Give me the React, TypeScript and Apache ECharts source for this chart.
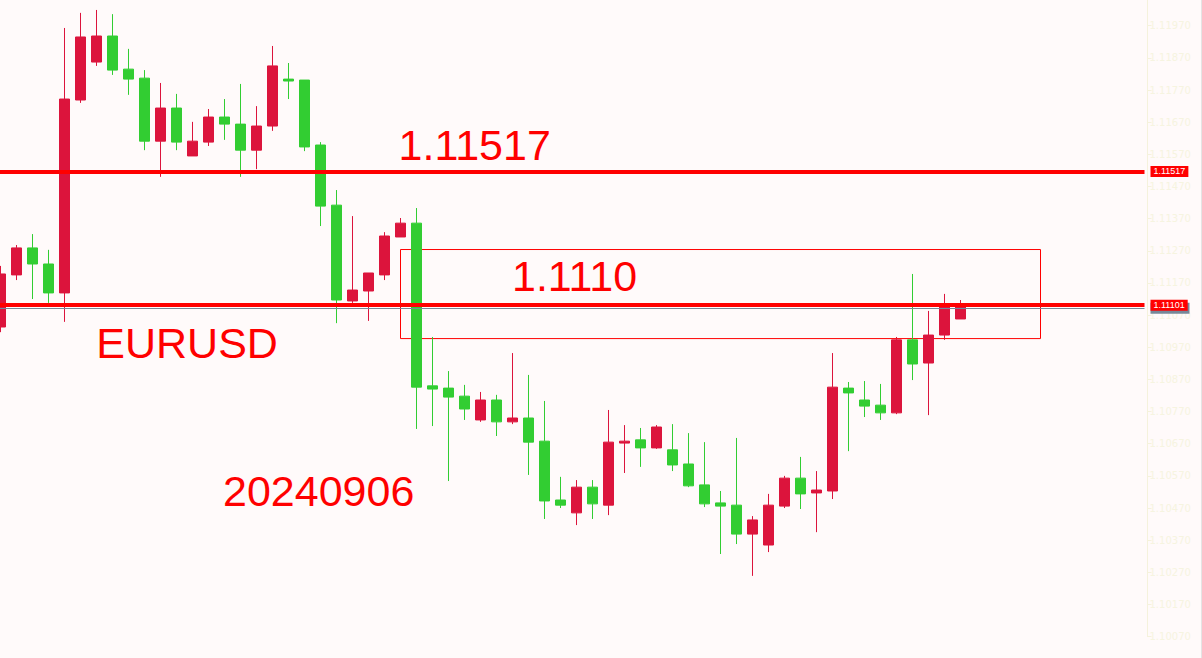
import React, { useEffect, useRef } from "react";
import * as echarts from "echarts";

// EURUSD candles (open, close, low, high), one entry per bar
const opens = [
  1.11033, 1.11195, 1.11279, 1.11229, 1.11139, 1.11739, 1.11857, 1.11938, 1.11835, 1.11807,
  1.11611, 1.11714, 1.11565, 1.11608, 1.11686, 1.11664, 1.11583, 1.11658, 1.11804, 1.11801,
  1.11599, 1.11412, 1.11114, 1.11145, 1.11195, 1.11313, 1.11356, 1.10850, 1.10843, 1.10818,
  1.10744, 1.10806, 1.10738, 1.10750, 1.10678, 1.10495, 1.10455, 1.10535, 1.10479, 1.10672,
  1.10682, 1.10657, 1.10651, 1.10607, 1.10542, 1.10486, 1.10479, 1.10389, 1.10355, 1.10476,
  1.10563, 1.10517, 1.10523, 1.10843, 1.10806, 1.10790, 1.10766, 1.10993, 1.10921, 1.11008,
  1.11058,
];
const closes = [
  1.11198, 1.11279, 1.11229, 1.11139, 1.11742, 1.11935, 1.11938, 1.11832, 1.11804, 1.11611,
  1.11714, 1.11608, 1.11611, 1.11686, 1.11664, 1.11583, 1.11658, 1.11845, 1.11798, 1.11593,
  1.11409, 1.11117, 1.11148, 1.11201, 1.11316, 1.11356, 1.10846, 1.10840, 1.10815, 1.10778,
  1.10806, 1.10738, 1.10750, 1.10675, 1.10492, 1.10479, 1.10535, 1.10483, 1.10675, 1.10678,
  1.10657, 1.10722, 1.10604, 1.10539, 1.10483, 1.10476, 1.10389, 1.10433, 1.10479, 1.10563,
  1.10514, 1.10526, 1.10846, 1.10828, 1.10787, 1.10766, 1.10993, 1.10918, 1.11008, 1.11098,
  1.11101,
];
const lows = [
  1.11017, 1.11179, 1.11120, 1.11108, 1.11049, 1.11730, 1.11845, 1.11817, 1.11755, 1.11583,
  1.11500, 1.11583, 1.11565, 1.11596, 1.11615, 1.11500, 1.11524, 1.11643, 1.11742, 1.11580,
  1.11347, 1.11045, 1.11108, 1.11052, 1.11179, 1.11313, 1.10716, 1.10725, 1.10554, 1.10744,
  1.10738, 1.10694, 1.10731, 1.10573, 1.10436, 1.10470, 1.10417, 1.10436, 1.10448, 1.10579,
  1.10598, 1.10654, 1.10585, 1.10535, 1.10473, 1.10327, 1.10358, 1.10259, 1.10333, 1.10470,
  1.10467, 1.10395, 1.10498, 1.10647, 1.10753, 1.10744, 1.10762, 1.10868, 1.10759, 1.10993,
  1.11058,
];
const highs = [
  1.11223, 1.11288, 1.11322, 1.11273, 1.11963, 1.12010, 1.12019, 1.12006, 1.11898, 1.11832,
  1.11792, 1.11758, 1.11671, 1.11711, 1.11742, 1.11789, 1.11720, 1.11907, 1.11854, 1.11801,
  1.11608, 1.11459, 1.11378, 1.11201, 1.11328, 1.11372, 1.11403, 1.11002, 1.10896, 1.10853,
  1.10831, 1.10822, 1.10952, 1.10884, 1.10803, 1.10567, 1.10557, 1.10557, 1.10775, 1.10728,
  1.10719, 1.10728, 1.10731, 1.10703, 1.10675, 1.10523, 1.10688, 1.10445, 1.10514, 1.10570,
  1.10629, 1.10585, 1.10952, 1.10862, 1.10865, 1.10856, 1.11002, 1.11198, 1.11083, 1.11136,
  1.11117,
];

// bar slots on the time axis (61 bars drawn + empty chart shift to the right)
const categories = Array.from({ length: 72 }, (_, i) => String(i + 1));

// horizontal levels
const levelHigh = 1.11517;
const levelLow = 1.11101;
const bidLevel = 1.11091;

// zone rectangle: from bar 26 to slot 66, price range
const zoneStart = "26";
const zoneEnd = "66";
const zoneTop = 1.11274;
const zoneBottom = 1.10997;

// price axis
const priceMin = 1.1007;
const priceMax = 1.1205;
const priceStep = 0.001;

export default function App() {
  const ref = useRef<HTMLDivElement>(null);

  useEffect(() => {
    if (!ref.current) return;
    const chart = echarts.init(ref.current, undefined, { renderer: "svg" });
    const data = opens.map((o, i) => [o, closes[i], lows[i], highs[i]]);
    const big = {
      fontSize: 43,
      fontFamily: "Liberation Sans, Arial, sans-serif",
      fill: "#ff0000",
      align: "left",
      verticalAlign: "middle",
    };
    const lbl = {
      show: true,
      position: "end",
      distance: 6,
      color: "#ffffff",
      fontSize: 9,
      fontFamily: "Liberation Sans, Arial, sans-serif",
      padding: [1, 3, 1, 3],
      formatter: (p: any) => Number(p.value).toFixed(5),
    };
    chart.setOption({
      animation: false,
      backgroundColor: "#FFFAFA",
      grid: {
        left: -7.5,
        top: 0,
        width: 1152,
        height: 636.66,
        containLabel: false,
        outerBoundsMode: "none",
      },
      xAxis: {
        type: "category",
        data: categories,
        boundaryGap: true,
        show: false,
      },
      yAxis: {
        type: "value",
        position: "right",
        offset: 3,
        min: priceMin,
        max: priceMax,
        interval: priceStep,
        scale: true,
        splitLine: { show: false },
        axisLine: { show: true, lineStyle: { color: "#F5F2DC", width: 1 } },
        axisTick: { show: true, length: 4, lineStyle: { color: "#F5F2DC" } },
        axisLabel: {
          color: "#F6F4E0",
          fontSize: 10,
          margin: 2,
          fontFamily: "DejaVu Sans, sans-serif",
          showMaxLabel: false,
          formatter: (v: number) => v.toFixed(5),
        },
      },
      series: [
        {
          type: "candlestick",
          data,
          barWidth: 10,
          clip: false,
          itemStyle: {
            color: "#DC143C",
            color0: "#32CD32",
            borderColor: "#DC143C",
            borderColor0: "#32CD32",
            borderWidth: 1,
          },
          markLine: {
            symbol: "none",
            silent: true,
            precision: 5,
            data: [
              {
                yAxis: bidLevel,
                lineStyle: { color: "#778899", width: 1, type: "solid" },
                label: {
                  ...lbl,
                  backgroundColor: "#778899",
                  width: 33,
                  height: 9,
                  formatter: " ",
                },
              },
              {
                yAxis: levelHigh,
                lineStyle: { color: "#ff0000", width: 4, type: "solid" },
                label: { ...lbl, backgroundColor: "#ff0000" },
              },
              {
                yAxis: levelLow,
                lineStyle: { color: "#ff0000", width: 4, type: "solid" },
                label: { ...lbl, backgroundColor: "#ff0000" },
              },
            ],
          },
          markArea: {
            silent: true,
            itemStyle: { color: "rgba(0,0,0,0)", borderColor: "#ff0000", borderWidth: 1, opacity: 1 },
            data: [[{ xAxis: zoneStart, yAxis: zoneTop }, { xAxis: zoneEnd, yAxis: zoneBottom }]],
          },
        },
      ],
      graphic: [
        { type: "rect", shape: { x: 1201, y: 0, width: 1, height: 658 }, style: { fill: "#e4e4e4" }, silent: true },
        { type: "text", x: 398.6, y: 144.7, style: { ...big, text: "1.11517" } },
        { type: "text", x: 512, y: 276.3, style: { ...big, text: "1.1110" } },
        { type: "text", x: 96.3, y: 343.3, style: { ...big, text: "EURUSD" } },
        { type: "text", x: 223, y: 490.5, style: { ...big, text: "20240906" } },
      ],
    });
    return () => chart.dispose();
  }, []);

  return (
    <div
      ref={ref}
      style={{ position: "fixed", left: 0, top: 0, width: 1202, height: 658 }}
    />
  );
}
